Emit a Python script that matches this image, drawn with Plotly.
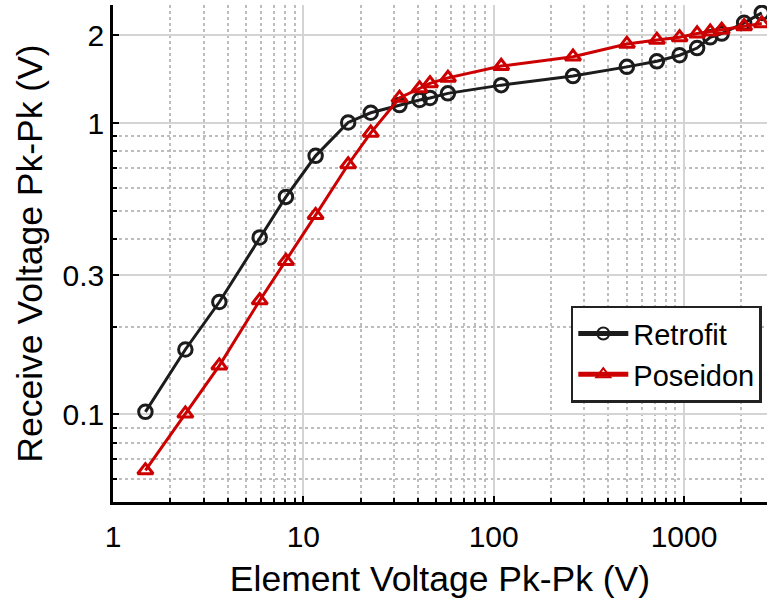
import plotly.graph_objects as go
import numpy as np

element_v = [1.48, 2.40, 3.62, 5.9, 8.1, 11.6, 17.2, 22.6, 32.0, 40.8, 46.3, 57.5,
             109.5, 261, 501, 720, 948, 1172, 1373, 1578, 2069, 2562]
retrofit = [0.102, 0.167, 0.243, 0.405, 0.558, 0.772, 1.005, 1.085, 1.153, 1.20, 1.22, 1.265,
            1.35, 1.45, 1.56, 1.63, 1.71, 1.81, 1.97, 2.03, 2.21, 2.39]
poseidon = [0.0642, 0.1005, 0.147, 0.246, 0.336, 0.483, 0.721, 0.926, 1.22, 1.316, 1.369, 1.43,
            1.57, 1.69, 1.87, 1.93, 1.97, 2.03, 2.06, 2.09, 2.15, 2.20]

x_ticks = [1, 10, 100, 1000]
x_ticktext = ["1", "10", "100", "1000"]
y_ticks = [0.1, 0.3, 1, 2]
y_ticktext = ["0.1", "0.3", "1", "2"]

FONT = "Liberation Sans, Arial, sans-serif"
BLACK = "#1c1c1c"
RED = "#cc0000"

fig = go.Figure()
fig.add_trace(go.Scatter(
    x=element_v, y=retrofit, name="Retrofit", mode="lines+markers",
    line=dict(color=BLACK, width=3),
    marker=dict(symbol="circle-open", size=13.5, color=BLACK, line=dict(width=3, color=BLACK)),
))
fig.add_trace(go.Scatter(
    x=element_v, y=poseidon, name="Poseidon", mode="lines+markers",
    line=dict(color=RED, width=3),
    marker=dict(symbol="triangle-up-open", size=13.5, color=RED, line=dict(width=3, color=RED)),
))

axis_common = dict(
    type="log",
    showline=True, linecolor="black", linewidth=2.5, mirror=False,
    ticks="inside", ticklen=6, tickwidth=2, tickcolor="black",
    showgrid=True, gridcolor="#d4d4d4", gridwidth=1.5,
    zeroline=False,
    tickfont=dict(family=FONT, size=30, color="black"),
    minor=dict(ticks="inside", ticklen=4, tickwidth=1.5, tickcolor="black",
               showgrid=True, gridcolor="#bdbdbd", gridwidth=1.5, griddash="dot",
               dtick="D1"),
)

fig.update_xaxes(**axis_common, range=[0, 3.436],
                 tickmode="array", tickvals=x_ticks, ticktext=x_ticktext,
                 ticklabelstandoff=6,
                 title=dict(text="Element Voltage Pk-Pk (V)",
                            font=dict(family=FONT, size=35.5, color="black"), standoff=15))
fig.update_yaxes(**axis_common, range=[np.log10(0.05), np.log10(2.544)],
                 tickmode="array", tickvals=y_ticks, ticktext=y_ticktext,
                 title=dict(text="Receive Voltage Pk-Pk (V)",
                            font=dict(family=FONT, size=35.5, color="black"), standoff=10))

fig.update_layout(
    width=767, height=600,
    margin=dict(l=113, r=0, t=5, b=98),
    plot_bgcolor="white", paper_bgcolor="white",
    legend=dict(x=0.700, y=0.395, xanchor="left", yanchor="top",
                bgcolor="white", bordercolor="#222222", borderwidth=2.5,
                font=dict(family=FONT, size=29, color="black"),
                tracegroupgap=0, itemsizing="constant", itemwidth=50),
    showlegend=True,
)

fig.write_html("out.html")
